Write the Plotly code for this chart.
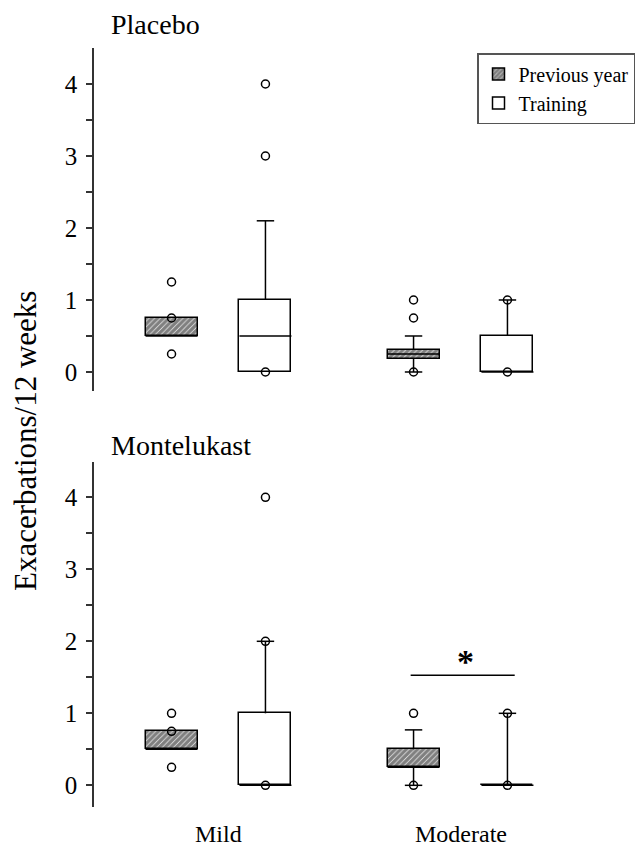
import plotly.graph_objects as go
from plotly.subplots import make_subplots

# ---------------- data ----------------
panels = ["Placebo", "Montelukast"]
severity = ["Mild", "Moderate"]
groups = ["Previous year", "Training"]

# order of boxes inside each panel: Mild-Prev, Mild-Train, Moderate-Prev, Moderate-Train
placebo_q1 = [0.50, 0.00, 0.18, 0.00]
placebo_median = [0.50, 0.50, 0.25, 0.00]
placebo_q3 = [0.75, 1.00, 0.31, 0.50]
placebo_lower = [0.50, 0.00, 0.00, 0.00]
placebo_upper = [0.75, 2.10, 0.50, 1.00]
placebo_outliers = [[1.25, 0.75, 0.25], [4.0, 3.0, 0.0], [1.0, 0.75, 0.0], [1.0, 0.0]]

montelukast_q1 = [0.50, 0.00, 0.25, 0.00]
montelukast_median = [0.50, 0.00, 0.25, 0.00]
montelukast_q3 = [0.75, 1.00, 0.50, 0.00]
montelukast_lower = [0.50, 0.00, 0.00, 0.00]
montelukast_upper = [0.75, 2.00, 0.77, 1.00]
montelukast_outliers = [[1.0, 0.75, 0.25], [4.0, 2.0, 0.0], [1.0, 0.0], [1.0, 0.0]]

# significance marker (bottom panel, Moderate): line level and star level
sig_category = "Moderate"
sig_line_y = 1.53
sig_star_y = 1.72

y_ticks = [0, 0.5, 1, 1.5, 2, 2.5, 3, 3.5, 4]
y_ticklabels = ["0", "", "1", "", "2", "", "3", "", "4"]

stats = {
    "Placebo": (placebo_q1, placebo_median, placebo_q3, placebo_lower, placebo_upper, placebo_outliers),
    "Montelukast": (montelukast_q1, montelukast_median, montelukast_q3, montelukast_lower,
                    montelukast_upper, montelukast_outliers),
}

# ---------------- layout constants ----------------
FONT = "Liberation Serif"
W, H = 637, 848
group_offset = [-0.194, 0.194]
box_w = 0.215
cap_half = 0.036

fig = make_subplots(rows=2, cols=1, shared_xaxes=False, vertical_spacing=0.05)

box_pos = [si + group_offset[gi] for si in range(len(severity)) for gi in range(len(groups))]
box_grp = [gi for si in range(len(severity)) for gi in range(len(groups))]

for pi, panel in enumerate(panels):
    row = pi + 1
    q1, med, q3, lo, up, outl = stats[panel]
    # box bodies as bars
    for gi, g in enumerate(groups):
        idx = [k for k in range(len(box_pos)) if box_grp[k] == gi]
        marker = dict(color="white", line=dict(color="black", width=1.5))
        if gi == 0:
            marker["pattern"] = dict(shape="/", fgcolor="black", bgcolor="white", size=4, solidity=0.85)
        fig.add_trace(go.Bar(
            x=[box_pos[k] for k in idx],
            base=[q1[k] for k in idx],
            y=[q3[k] - q1[k] for k in idx],
            width=box_w, marker=marker, name=g,
            showlegend=(pi == 0), legendgroup=g,
            hoverinfo="skip",
        ), row=row, col=1)
    # medians, whiskers and caps
    xs, ys = [], []
    for k, x in enumerate(box_pos):
        xs += [x - box_w / 2, x + box_w / 2, None]
        ys += [med[k], med[k], None]
        if up[k] > q3[k]:
            xs += [x, x, None, x - cap_half, x + cap_half, None]
            ys += [q3[k], up[k], None, up[k], up[k], None]
        if lo[k] < q1[k]:
            xs += [x, x, None, x - cap_half, x + cap_half, None]
            ys += [q1[k], lo[k], None, lo[k], lo[k], None]
    fig.add_trace(go.Scatter(x=xs, y=ys, mode="lines", line=dict(color="black", width=1.5),
                             showlegend=False, hoverinfo="skip"), row=row, col=1)
    # outliers
    ox, oy = [], []
    for k, x in enumerate(box_pos):
        for v in outl[k]:
            ox.append(x)
            oy.append(v)
    fig.add_trace(go.Scatter(x=ox, y=oy, mode="markers",
                             marker=dict(symbol="circle-open", size=8, color="black", line=dict(width=1.5)),
                             showlegend=False, hoverinfo="skip"), row=row, col=1)

# significance bar
si = severity.index(sig_category)
fig.add_trace(go.Scatter(x=[si + group_offset[0] - 0.012, si + group_offset[1] + 0.03],
                         y=[sig_line_y, sig_line_y], mode="lines",
                         line=dict(color="black", width=1.5), showlegend=False, hoverinfo="skip"),
              row=2, col=1)
fig.add_annotation(x=si + 0.02, y=sig_star_y, xref="x2", yref="y2", text="<b>*</b>", showarrow=False,
                   font=dict(family=FONT, size=34, color="black"), xanchor="center", yanchor="middle")

# axes
left_px = 94
x_range = [(left_px - 218.5) / 242, (W - 218.5) / 242]
for r in (1, 2):
    fig.update_xaxes(range=x_range, showline=False, showgrid=False, zeroline=False,
                     showticklabels=False, ticks="", domain=[0, 1], row=r, col=1)
    fig.update_yaxes(showline=True, linecolor="#333", linewidth=1.5, showgrid=False, zeroline=False,
                     ticks="outside", ticklen=6, tickwidth=1.5, tickcolor="#333",
                     tickvals=y_ticks, ticktext=y_ticklabels, ticklabelstandoff=4,
                     tickfont=dict(family=FONT, size=25, color="black"), row=r, col=1)
fig.update_yaxes(range=[-0.264, 4.5], domain=[1 - 391 / H, 1 - 48 / H], row=1, col=1)
fig.update_yaxes(range=[-0.301, 4.49], domain=[1 - 807 / H, 1 - 462 / H], row=2, col=1)

plot_w = W - left_px
def px_x(p):
    return (p - left_px) / plot_w

# panel titles
for pi, (panel, ypx) in enumerate(zip(panels, [25, 445])):
    fig.add_annotation(x=px_x(109), y=1 - ypx / H, xref="paper", yref="paper", text=panel,
                       showarrow=False, xanchor="left", yanchor="middle",
                       font=dict(family=FONT, size=28, color="black"))

# severity labels
for si, s in enumerate(severity):
    fig.add_annotation(x=si, y=1 - 834 / H, xref="x2", yref="paper", text=s, showarrow=False,
                       xanchor="center", yanchor="middle", font=dict(family=FONT, size=24, color="black"))

# y-axis title
fig.add_annotation(x=px_x(26), y=1 - 441 / H, xref="paper", yref="paper", text="Exacerbations/12 weeks",
                   showarrow=False, textangle=-90, xanchor="center", yanchor="middle",
                   font=dict(family=FONT, size=31, color="black"))

fig.update_layout(
    width=W, height=H, margin=dict(l=left_px, r=0, t=0, b=0),
    plot_bgcolor="white", paper_bgcolor="white", barmode="overlay", bargap=0,
    font=dict(family=FONT, color="black"),
    legend=dict(x=px_x(477), y=1 - 53 / H, xanchor="left", yanchor="top",
                bordercolor="#555", borderwidth=1.5, bgcolor="white",
                font=dict(family=FONT, size=20, color="black"), traceorder="normal"),
)

fig.write_html("out.html", config={"displayModeBar": False},
               post_script="document.body.style.margin='0';document.body.style.overflow='hidden';")
